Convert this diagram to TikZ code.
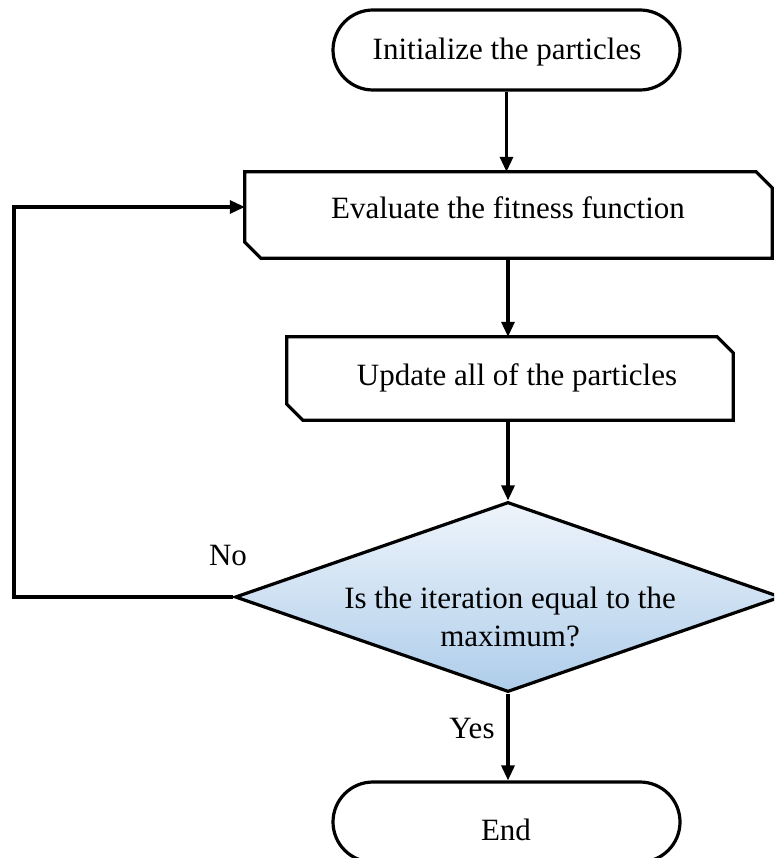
\documentclass[tikz,border=0pt]{standalone}
\usepackage{fontspec}
\setmainfont{Liberation Serif}
\usetikzlibrary{shapes.misc,shapes.geometric,arrows.meta}

\definecolor{dectop}{HTML}{EEF4FB}
\definecolor{decbot}{HTML}{AECDEA}

\tikzset{
  flowline/.style={line width=3.2pt},
  flowarrow/.style={flowline,-{Triangle[length=15pt,width=13pt]}},
  terminal/.style={rounded rectangle, draw, flowline, inner sep=0pt,
    minimum width=347pt, minimum height=80pt},
  process/.style={rectangle, inner sep=0pt},
  decision/.style={diamond, draw, flowline, inner sep=0pt,
    minimum width=546pt, minimum height=190pt,
    top color=dectop, bottom color=decbot},
  txt/.style={font=\fontsize{31}{38}\selectfont, inner sep=0pt, align=center},
}

% outline of a process box with its north-east and south-west corners cut off
\newcommand\cutbox[1]{%
  \draw[flowline, line join=miter]
    (#1.north west) -- ([xshift=-16pt]#1.north east)
    -- ([yshift=-16pt]#1.north east) -- (#1.south east)
    -- ([xshift=16pt]#1.south west) -- ([yshift=16pt]#1.south west)
    -- cycle;}

\begin{document}
\begin{tikzpicture}[x=1pt,y=-1pt]
  \useasboundingbox (0,0) rectangle (774,858);
  \clip (0,0) rectangle (774,858);

  % shapes
  \node[terminal] (init) at (506.5,50) {};
  \node[process, minimum width=527pt, minimum height=86pt] (eval) at (508.5,215) {};
  \node[process, minimum width=446pt, minimum height=83pt] (upd) at (510,378.5) {};
  \cutbox{eval}
  \cutbox{upd}
  \node[decision] (dec) at (508,597) {};
  \node[terminal] (fin) at (506.5,822) {};

  % texts
  \node[txt] (tinit) at (507,52) {Initialize the particles};
  \node[txt] (teval) at (508,208) {Evaluate the fitness function};
  \node[txt] (tupd) at (517,378) {Update all of the particles};
  \node[txt] (tdec) at (510,617) {Is the iteration equal to the\\maximum?};
  \node[txt] (tfin) at (506,830) {End};
  \node[txt] (lno) at (228,555) {No};
  \node[txt] (lyes) at (472,728) {Yes};

  % connectors
  \coordinate (loopx) at (14,597);
  \draw[flowarrow] (init.south) -- (init.south |- eval.north);
  \draw[flowarrow] (eval.south -| dec.north) -- (dec.north |- upd.north);
  \draw[flowarrow] (upd.south -| dec.north) -- (dec.north);
  \draw[flowarrow] (dec.south) -- (fin.north -| dec.south);
  \draw[flowarrow] (dec.west) -- (loopx) |- ([yshift=8pt]eval.west);
\end{tikzpicture}
\end{document}
